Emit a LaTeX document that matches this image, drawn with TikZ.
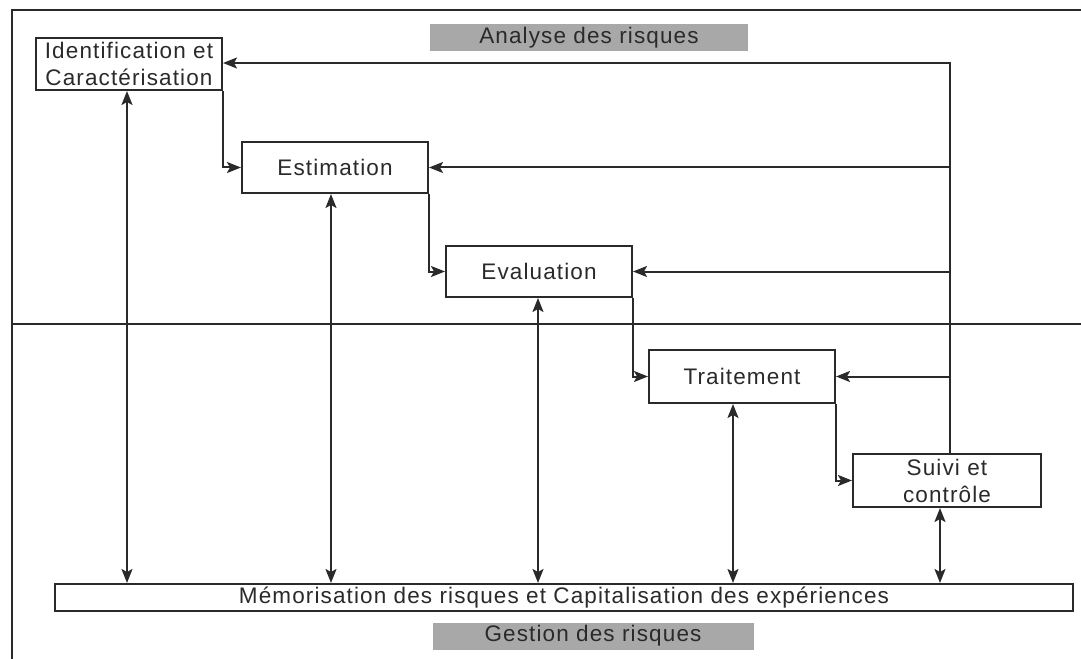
\documentclass[tikz,border=0pt]{standalone}
\usepackage{fontspec}
\setmainfont{Liberation Sans}[LetterSpace=5]
\usetikzlibrary{arrows.meta}
\definecolor{ink}{HTML}{2A2A2A}
\definecolor{band}{HTML}{A8A8A8}
\begin{document}
\begin{tikzpicture}[x=1bp,y=-1bp,
  font=\fontsize{22.5bp}{27bp}\selectfont,
  line/.style={draw=ink,line width=2bp},
  stagebox/.style={draw=ink,line width=2bp,fill=white,text=ink,
    inner sep=0pt,align=center,minimum height=#1},
  stagebox/.default=51bp,
  bandlabel/.style={fill=band,draw=none,text=ink,inner sep=0pt,
    minimum width=318bp,minimum height=27bp},
  arr/.style={line,-{Stealth[length=14bp,width=11bp,inset=3bp]}},
  darr/.style={line,{Stealth[length=14bp,width=11bp,inset=3bp]}-{Stealth[length=14bp,width=11bp,inset=3bp]}}]
\useasboundingbox (0,0) rectangle (1081,659);

% frame and separation between the two zones
\draw[line] (1081,10) -- (12,10) -- (12,659);
\draw[line] (12,324) -- (1081,324);

% zone titles
\node[bandlabel] (analyse) at (589,38) {Analyse des risques};
\node[bandlabel,minimum width=321bp] (gestion) at (593,636) {Gestion des risques};

% process stages
\node[stagebox=52bp,minimum width=186bp] (ident) at (129,64) {Identification et\\Caractérisation};
\node[stagebox,minimum width=186bp] (est) at (335,167.5) {Estimation};
\node[stagebox,minimum width=186bp] (eval) at (539,271.5) {Evaluation};
\node[stagebox=53bp,minimum width=186bp] (trait) at (742,376.5) {Traitement};
\node[stagebox=53bp,minimum width=188bp] (suivi) at (947,480.5) {Suivi et\\contrôle};
\node[stagebox=27bp,minimum width=1018bp] (mem) at (564,597.5)
  {Mémorisation des risques et Capitalisation des expériences};

% forward chain
\draw[arr] (ident.south east) |- (est.west);
\draw[arr] (est.south east) |- (eval.west);
\draw[arr] (eval.south east) |- (trait.west);
\draw[arr] (trait.south east) |- (suivi.west);

% feedback from monitoring to every earlier stage
\coordinate (fb) at (950,63);
\draw[arr] ([xshift=3bp]suivi.north) |- (ident.east |- fb);
\draw[arr] (fb |- est.east) -- (est.east);
\draw[arr] (fb |- eval.east) -- (eval.east);
\draw[arr] (fb |- trait.east) -- (trait.east);

% exchanges with the memorisation stage
\draw[darr] ([xshift=-2bp]ident.south) -- ([xshift=-2bp]ident.south |- mem.north);
\draw[darr] ([xshift=-4bp]est.south) -- ([xshift=-4bp]est.south |- mem.north);
\draw[darr] ([xshift=-1bp]eval.south) -- ([xshift=-1bp]eval.south |- mem.north);
\draw[darr] ([xshift=-9bp]trait.south) -- ([xshift=-9bp]trait.south |- mem.north);
\draw[darr] ([xshift=-7bp]suivi.south) -- ([xshift=-7bp]suivi.south |- mem.north);
\end{tikzpicture}
\end{document}
